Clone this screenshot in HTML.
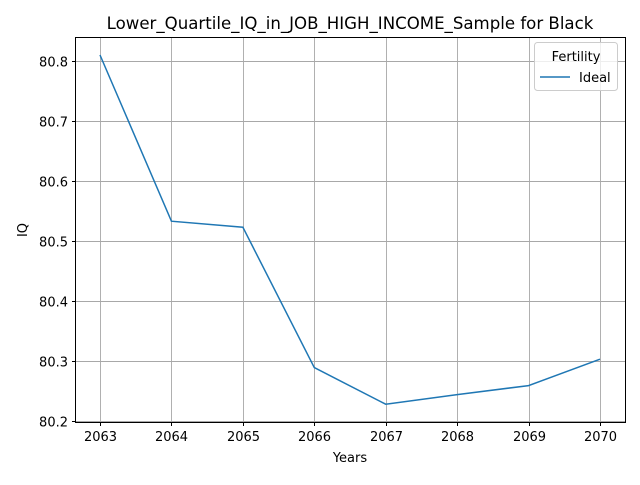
<!DOCTYPE html>
<html><head><meta charset="utf-8"><style>
body{margin:0;background:#fff;}
svg text{font-family:"DejaVu Sans","Liberation Sans",sans-serif;}
</style></head><body>
<svg id="chart" width="640" height="480" viewBox="0 0 640 480">
<rect width="640" height="480" fill="#fff"/>
<text x="350" y="29" font-size="16.6" text-anchor="middle">Lower_Quartile_IQ_in_JOB_HIGH_INCOME_Sample for Black</text>
<g id="grid"></g>
<g id="ticks"></g>
<g id="series"></g>
<rect x="75.5" y="37.5" width="550" height="385" fill="none" stroke="#000" stroke-width="1"/>
<text x="350" y="462" font-size="13" text-anchor="middle">Years</text>
<text x="27" y="230" font-size="13" text-anchor="middle" transform="rotate(-90 27 230)">IQ</text>
<g>
<rect x="534.5" y="42.5" width="83" height="48" rx="3" fill="#fff" fill-opacity="0.8" stroke="#ccc"/>
<text x="576" y="61" font-size="13" text-anchor="middle">Fertility</text>
<line x1="540" y1="77" x2="570" y2="77" stroke="#1f77b4" stroke-width="1.5"/>
<text x="579" y="82" font-size="13">Ideal</text>
</g>
</svg>
<script>
const years=[2063,2064,2065,2066,2067,2068,2069,2070];
const iqValues=[80.81,80.533,80.523,80.289,80.228,80.244,80.259,80.303];
const yTicks=[80.2,80.3,80.4,80.5,80.6,80.7,80.8];
const NS="http://www.w3.org/2000/svg";
const xS=v=>100+(v-2063)*(500/7);
const yS=v=>421-(v-80.2)*600;
const grid=document.getElementById('grid'),ticks=document.getElementById('ticks'),series=document.getElementById('series');
function mk(t,a,p){const e=document.createElementNS(NS,t);for(const k in a)e.setAttribute(k,a[k]);p.appendChild(e);return e;}
years.forEach(y=>{
 const x=Math.round(xS(y))+0.5;
 const g=mk('line',{x1:x,x2:x,y1:37.5,y2:422.5,stroke:'#a8a8a8','stroke-width':0.9},grid);
 
 
 mk('line',{x1:x,x2:x,y1:422.5,y2:426,stroke:'#000'},ticks);
 const t=mk('text',{x:x,y:441,'font-size':13,'text-anchor':'middle'},ticks);
 t.textContent=y;
 
 
});
yTicks.forEach(v=>{
 const y=Math.round(yS(v))+0.5;
 const g=mk('line',{x1:75.5,x2:625.5,y1:y,y2:y,stroke:'#a8a8a8','stroke-width':0.9},grid);
 
 
 mk('line',{x1:72,x2:75.5,y1:y,y2:y,stroke:'#000'},ticks);
 const t=mk('text',{x:68,y:y+5,'font-size':13,'text-anchor':'end'},ticks);
 t.textContent=v.toFixed(1);
 
 
});
const pts=years.map((y,i)=>xS(y)+','+yS(iqValues[i])).join(' ');
const pl=mk('polyline',{points:pts,fill:'none',stroke:'#1f77b4','stroke-width':1.5},series);


</script>
</body></html>
